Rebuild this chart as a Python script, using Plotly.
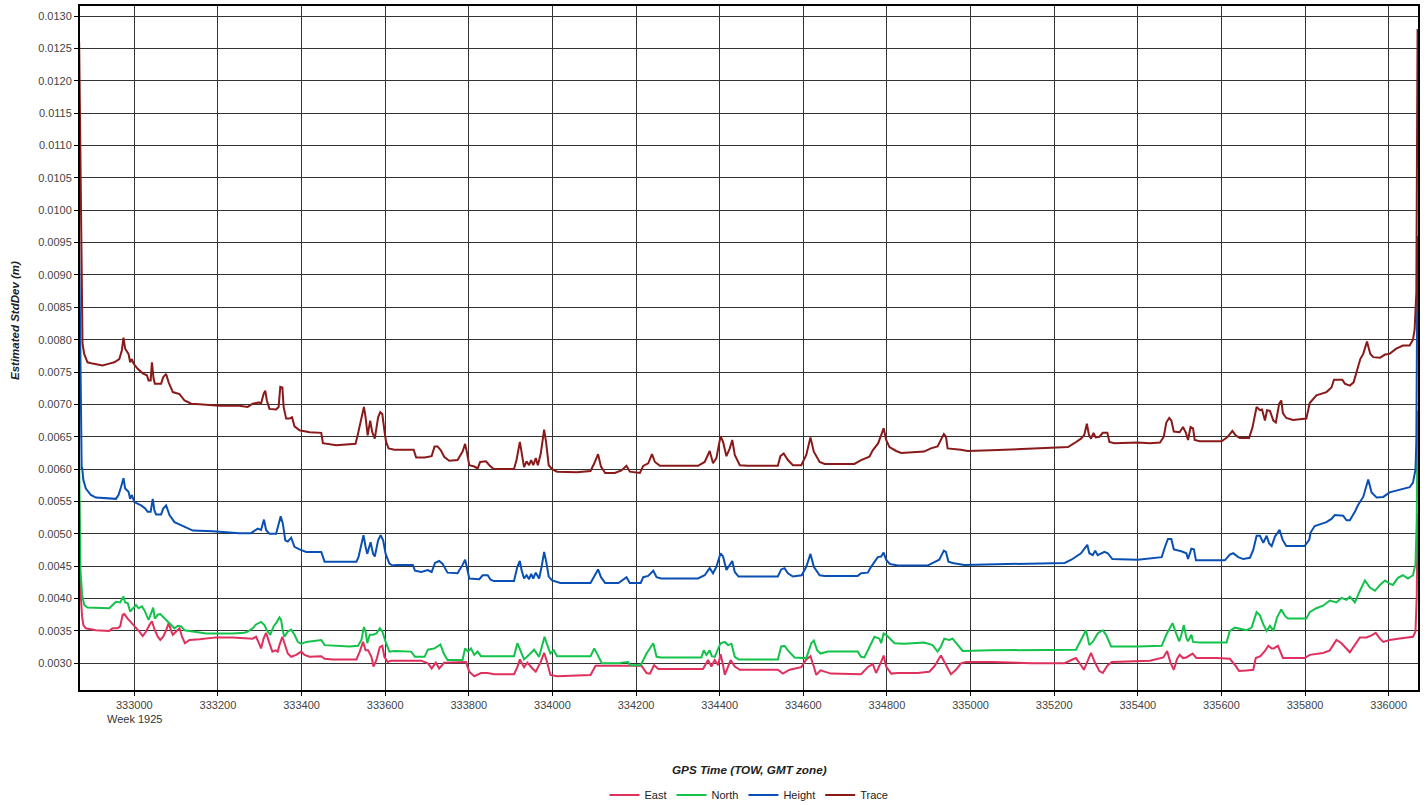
import plotly.graph_objects as go

# ---------------- data ----------------
trace_x = [332868, 332873, 332874, 332876, 332880, 332888, 332900, 332924, 332940, 332952, 332964, 332970, 332974,
           332978, 332986, 332990, 332994, 332998, 333008, 333020, 333030, 333034, 333039, 333042, 333046, 333049,
           333064, 333069, 333076, 333082, 333092, 333108, 333120, 333136, 333156, 333203, 333251, 333271, 333283,
           333298, 333303, 333309, 333313, 333317, 333323, 333339, 333345, 333349, 333354, 333357, 333363, 333371,
           333377, 333383, 333395, 333419, 333447, 333451, 333483, 333507, 333529, 333535, 333543, 333549, 333553,
           333558, 333564, 333569, 333575, 333583, 333588, 333593, 333599, 333602, 333608, 333622, 333668, 333674,
           333694, 333711, 333718, 333725, 333733, 333741, 333753, 333773, 333785, 333791, 333795, 333801, 333813,
           333821, 333827, 333841, 333849, 333859, 333908, 333914, 333922, 333926, 333932, 333938, 333944, 333949,
           333954, 333960, 333965, 333972, 333980, 333985, 333991, 333999, 334011, 334059, 334091, 334100, 334109,
           334116, 334126, 334149, 334165, 334177, 334185, 334209, 334217, 334229, 334238, 334245, 334257, 334348,
           334364, 334376, 334384, 334392, 334402, 334408, 334416, 334424, 334430, 334436, 334448, 334467, 334539,
           334545, 334553, 334563, 334575, 334595, 334607, 334617, 334625, 334639, 334651, 334722, 334738, 334758,
           334766, 334779, 334786, 334792, 334798, 334806, 334822, 334834, 334889, 334905, 334921, 334929, 334936,
           334941, 334945, 334977, 334993, 335049, 335185, 335233, 335248, 335264, 335272, 335278, 335283, 335288,
           335294, 335299, 335308, 335316, 335327, 335332, 335344, 335400, 335429, 335453, 335462, 335468, 335475,
           335480, 335486, 335500, 335508, 335515, 335520, 335526, 335532, 335536, 335548, 335600, 335614, 335626,
           335634, 335644, 335666, 335674, 335684, 335692, 335697, 335704, 335709, 335716, 335724, 335730, 335738,
           335743, 335747, 335755, 335771, 335803, 335811, 335818, 335827, 335851, 335863, 335869, 335889, 335895,
           335907, 335916, 335924, 335932, 335939, 335948, 335956, 335963, 335979, 335991, 336002, 336018, 336034,
           336050, 336058, 336062, 336066, 336069]
trace_y = [0.0126, 0.0092, 0.0081, 0.00794, 0.00778, 0.00765, 0.00763, 0.0076, 0.00763, 0.00765, 0.0077, 0.00783,
           0.00803, 0.00786, 0.00778, 0.00765, 0.0077, 0.00763, 0.00755, 0.00748, 0.00745, 0.00737, 0.00737, 0.00765,
           0.0074, 0.00732, 0.00732, 0.00742, 0.00747, 0.00734, 0.00719, 0.00716, 0.00706, 0.00701, 0.007, 0.00698,
           0.00698, 0.00696, 0.00701, 0.00703, 0.00701, 0.00716, 0.00721, 0.00706, 0.00693, 0.00692, 0.00696,
           0.00727, 0.00726, 0.00696, 0.00678, 0.00678, 0.0068, 0.00666, 0.0066, 0.00657, 0.00656, 0.0064, 0.00637,
           0.00638, 0.00639, 0.00655, 0.0068, 0.00696, 0.0068, 0.00652, 0.00675, 0.00657, 0.00647, 0.0068, 0.00688,
           0.00685, 0.00655, 0.00642, 0.00632, 0.0063, 0.0063, 0.00618, 0.00618, 0.0062, 0.00635, 0.00635, 0.00629,
           0.00619, 0.00613, 0.00614, 0.00627, 0.00639, 0.00627, 0.00606, 0.00604, 0.00601, 0.00611, 0.00612,
           0.00606, 0.006, 0.006, 0.00614, 0.00642, 0.00627, 0.00603, 0.00612, 0.00606, 0.00614, 0.00606, 0.00617,
           0.00606, 0.00624, 0.00661, 0.0064, 0.00606, 0.006, 0.00596, 0.00595, 0.00597, 0.00609, 0.00623, 0.00604,
           0.00594, 0.00594, 0.00598, 0.00605, 0.00596, 0.00594, 0.00605, 0.00609, 0.00623, 0.00611, 0.00605,
           0.00605, 0.00611, 0.00628, 0.00609, 0.00617, 0.00651, 0.00642, 0.0062, 0.00632, 0.00645, 0.00622,
           0.00606, 0.00605, 0.00605, 0.0062, 0.00624, 0.00614, 0.00606, 0.00606, 0.00622, 0.00649, 0.00627,
           0.00611, 0.00608, 0.00608, 0.00614, 0.00619, 0.00629, 0.0064, 0.00653, 0.00663, 0.00645, 0.00634,
           0.00628, 0.00625, 0.00627, 0.00632, 0.00635, 0.00645, 0.00654, 0.0065, 0.00632, 0.0063, 0.00628, 0.00629,
           0.00632, 0.00634, 0.0064, 0.00647, 0.00653, 0.0067, 0.00653, 0.00647, 0.00656, 0.00649, 0.0065, 0.00656,
           0.00656, 0.00642, 0.0064, 0.00641, 0.0064, 0.00641, 0.0065, 0.00672, 0.00679, 0.00675, 0.00658, 0.00657,
           0.00665, 0.00656, 0.00645, 0.00665, 0.00663, 0.00645, 0.00643, 0.00643, 0.00649, 0.00659, 0.00652,
           0.00648, 0.00648, 0.00664, 0.00696, 0.00691, 0.00692, 0.00675, 0.00691, 0.0069, 0.00675, 0.00672,
           0.00701, 0.00706, 0.00686, 0.00679, 0.00676, 0.00678, 0.00702, 0.00708, 0.00714, 0.00719, 0.00726,
           0.00738, 0.00738, 0.00732, 0.00729, 0.00734, 0.00752, 0.0077, 0.00778, 0.00797, 0.00778, 0.00773,
           0.00772, 0.00777, 0.00778, 0.00786, 0.00791, 0.00791, 0.008, 0.00816, 0.00873, 0.0128]

height_x = [332868, 332872, 332874, 332875, 332878, 332884, 332896, 332908, 332956, 332962, 332968, 332974, 332978,
            332986, 332990, 332994, 333000, 333016, 333026, 333032, 333039, 333044, 333048, 333052, 333064, 333069,
            333076, 333084, 333096, 333112, 333124, 333140, 333188, 333251, 333279, 333295, 333303, 333310, 333315,
            333323, 333339, 333346, 333350, 333355, 333361, 333367, 333375, 333383, 333395, 333411, 333447, 333455,
            333531, 333536, 333543, 333548, 333553, 333557, 333565, 333571, 333575, 333583, 333589, 333595, 333601,
            333610, 333618, 333626, 333666, 333671, 333686, 333702, 333711, 333719, 333729, 333737, 333749, 333773,
            333785, 333791, 333795, 333801, 333825, 333833, 333845, 333852, 333860, 333908, 333916, 333922, 333926,
            333932, 333938, 333944, 333949, 333954, 333960, 333968, 333974, 333980, 333985, 333991, 333999, 334019,
            334091, 334100, 334109, 334116, 334126, 334158, 334177, 334185, 334211, 334217, 334229, 334241, 334249,
            334260, 334348, 334364, 334376, 334384, 334392, 334402, 334408, 334416, 334424, 334430, 334436, 334445,
            334539, 334547, 334555, 334563, 334575, 334596, 334607, 334617, 334625, 334639, 334651, 334730, 334738,
            334754, 334762, 334778, 334786, 334792, 334798, 334806, 334810, 334826, 334897, 334909, 334925, 334936,
            334941, 334947, 334957, 334985, 335049, 335145, 335225, 335241, 335264, 335279, 335284, 335292, 335298,
            335304, 335320, 335328, 335339, 335400, 335429, 335457, 335465, 335472, 335480, 335486, 335504, 335516,
            335520, 335528, 335534, 335539, 335608, 335620, 335628, 335640, 335652, 335668, 335676, 335684, 335692,
            335700, 335708, 335714, 335720, 335728, 335739, 335746, 335755, 335799, 335810, 335813, 335823, 335851,
            335863, 335871, 335891, 335899, 335907, 335919, 335927, 335939, 335951, 335959, 335971, 335987, 336002,
            336018, 336034, 336050, 336058, 336064, 336066, 336069]
height_y = [0.0095, 0.0070, 0.0060, 0.00603, 0.00583, 0.0057, 0.0056, 0.00556, 0.00554, 0.0056, 0.00572, 0.00586,
            0.0057, 0.00565, 0.00554, 0.0056, 0.00549, 0.00544, 0.00539, 0.00534, 0.00534, 0.00554, 0.00536, 0.0053,
            0.0053, 0.00539, 0.00544, 0.00529, 0.00518, 0.00513, 0.0051, 0.00505, 0.00504, 0.00501, 0.00501, 0.00508,
            0.00506, 0.00522, 0.00506, 0.005, 0.005, 0.00516, 0.00527, 0.00516, 0.0049, 0.00488, 0.00494, 0.0048,
            0.00476, 0.00472, 0.00472, 0.00457, 0.00457, 0.00464, 0.00485, 0.00498, 0.0048, 0.00469, 0.00487,
            0.00469, 0.00465, 0.0049, 0.00498, 0.0049, 0.00469, 0.00454, 0.00451, 0.00452, 0.00452, 0.00443,
            0.00441, 0.00444, 0.00441, 0.00455, 0.00458, 0.00454, 0.0044, 0.00439, 0.00452, 0.0046, 0.00449,
            0.00431, 0.0043, 0.00436, 0.00436, 0.00429, 0.00427, 0.00427, 0.00449, 0.00458, 0.00444, 0.00431,
            0.00436, 0.0043, 0.00438, 0.00431, 0.0044, 0.00431, 0.00449, 0.00472, 0.00457, 0.00434, 0.00428,
            0.00424, 0.00424, 0.00434, 0.00445, 0.00433, 0.00424, 0.00424, 0.00433, 0.00424, 0.00424, 0.00433,
            0.00435, 0.00443, 0.00433, 0.00431, 0.00431, 0.00436, 0.00447, 0.00439, 0.00449, 0.0047, 0.00465,
            0.00444, 0.00452, 0.00458, 0.00441, 0.00434, 0.00434, 0.00445, 0.00447, 0.00439, 0.00434, 0.00436,
            0.00449, 0.00469, 0.00449, 0.00436, 0.00435, 0.00435, 0.00439, 0.0044, 0.00449, 0.00464, 0.00465,
            0.00471, 0.0046, 0.00454, 0.00453, 0.00451, 0.00451, 0.00455, 0.0046, 0.00474, 0.00472, 0.00457,
            0.00455, 0.00452, 0.00453, 0.00454, 0.00455, 0.0046, 0.0047, 0.00483, 0.0047, 0.00467, 0.00474, 0.00467,
            0.00472, 0.0047, 0.00461, 0.0046, 0.00462, 0.00464, 0.0048, 0.00492, 0.00492, 0.00476, 0.00473, 0.0047,
            0.00461, 0.00477, 0.00476, 0.00459, 0.00459, 0.00468, 0.0047, 0.00464, 0.00461, 0.00463, 0.00475,
            0.00497, 0.00497, 0.00486, 0.00497, 0.00485, 0.00481, 0.00496, 0.00506, 0.00491, 0.00481, 0.00481,
            0.00491, 0.00502, 0.00512, 0.00518, 0.00523, 0.00529, 0.00528, 0.00521, 0.00521, 0.00534, 0.00545,
            0.00557, 0.00584, 0.00564, 0.00556, 0.00557, 0.00564, 0.00567, 0.00569, 0.00572, 0.00579, 0.00599,
            0.00643, 0.0096]

north_x = [332868, 332871, 332875, 332880, 332888, 332916, 332940, 332948, 332956, 332966, 332974, 332978, 332984,
           332990, 332996, 333004, 333010, 333018, 333024, 333030, 333034, 333040, 333045, 333049, 333056, 333062,
           333068, 333080, 333088, 333096, 333104, 333112, 333120, 333132, 333148, 333172, 333235, 333263, 333271,
           333283, 333291, 333303, 333311, 333317, 333325, 333333, 333341, 333347, 333351, 333355, 333359, 333367,
           333375, 333383, 333391, 333399, 333411, 333431, 333447, 333455, 333475, 333515, 333535, 333543, 333549,
           333553, 333557, 333563, 333571, 333579, 333587, 333593, 333601, 333610, 333622, 333662, 333671, 333694,
           333702, 333718, 333732, 333740, 333749, 333785, 333791, 333798, 333805, 333813, 333821, 333829, 333852,
           333908, 333916, 333924, 333932, 333944, 333956, 333968, 333976, 333981, 333986, 333995, 334003, 334011,
           334091, 334100, 334108, 334118, 334162, 334165, 334181, 334185, 334211, 334225, 334241, 334249, 334260,
           334356, 334362, 334368, 334376, 334381, 334388, 334402, 334412, 334420, 334428, 334436, 334445, 334539,
           334547, 334555, 334563, 334579, 334607, 334619, 334625, 334633, 334641, 334659, 334730, 334738, 334746,
           334758, 334770, 334782, 334786, 334792, 334798, 334818, 334841, 334889, 334909, 334921, 334929, 334937,
           334949, 334957, 334969, 334981, 335049, 335233, 335252, 335264, 335276, 335284, 335292, 335304, 335316,
           335324, 335336, 335400, 335429, 335457, 335468, 335483, 335491, 335499, 335504, 335510, 335516, 335520,
           335528, 335532, 335548, 335612, 335620, 335632, 335660, 335672, 335684, 335692, 335700, 335708, 335716,
           335724, 335733, 335743, 335751, 335759, 335803, 335811, 335827, 335843, 335859, 335875, 335887, 335899,
           335907, 335919, 335929, 335943, 335955, 335967, 335979, 335991, 336002, 336010, 336022, 336034, 336046,
           336058, 336064, 336067, 336069]
north_y = [0.0061, 0.00444, 0.00406, 0.0039, 0.00386, 0.00385, 0.00385, 0.0039, 0.00395, 0.00394, 0.00403, 0.00394,
           0.00393, 0.0038, 0.00385, 0.0039, 0.00385, 0.00388, 0.00382, 0.00372, 0.00367, 0.00377, 0.00386, 0.00369,
           0.00375, 0.00376, 0.00372, 0.00364, 0.00359, 0.00354, 0.00358, 0.00357, 0.00351, 0.0035, 0.00349,
           0.00346, 0.00346, 0.00347, 0.00349, 0.00354, 0.0036, 0.00364, 0.00359, 0.00351, 0.00344, 0.00357,
           0.00364, 0.00371, 0.00367, 0.0035, 0.00341, 0.00349, 0.00352, 0.00344, 0.00333, 0.0033, 0.00333,
           0.00335, 0.00336, 0.00328, 0.00327, 0.00326, 0.00327, 0.00336, 0.00356, 0.00349, 0.00331, 0.00344,
           0.00344, 0.00346, 0.00354, 0.00349, 0.00333, 0.00318, 0.00319, 0.00318, 0.0031, 0.0031, 0.00321,
           0.00323, 0.00329, 0.00315, 0.00305, 0.00305, 0.00323, 0.00318, 0.00323, 0.00313, 0.00318, 0.00311,
           0.00311, 0.00311, 0.00331, 0.00318, 0.00306, 0.00313, 0.00321, 0.0031, 0.00331, 0.00341, 0.00331,
           0.00315, 0.0032, 0.00311, 0.00311, 0.00323, 0.00313, 0.003, 0.003, 0.00301, 0.00302, 0.00297, 0.00297,
           0.00315, 0.00331, 0.0031, 0.00309, 0.00309, 0.0032, 0.00313, 0.0032, 0.00311, 0.0031, 0.00331, 0.00333,
           0.00328, 0.0033, 0.0031, 0.00306, 0.00306, 0.00326, 0.00327, 0.0032, 0.00309, 0.00308, 0.00331, 0.00335,
           0.0032, 0.00315, 0.00318, 0.00318, 0.0031, 0.00309, 0.00326, 0.00341, 0.00338, 0.00331, 0.00346,
           0.00344, 0.00331, 0.0033, 0.00332, 0.00328, 0.00318, 0.00326, 0.00338, 0.00336, 0.00338, 0.00328,
           0.00319, 0.0032, 0.00321, 0.00321, 0.00336, 0.00351, 0.00328, 0.00333, 0.00346, 0.00351, 0.00344,
           0.00326, 0.00326, 0.00326, 0.00327, 0.00344, 0.00362, 0.00347, 0.00334, 0.00344, 0.00359, 0.00339,
           0.00334, 0.00344, 0.00333, 0.00332, 0.00332, 0.0035, 0.00355, 0.00351, 0.00355, 0.00379, 0.00374,
           0.0036, 0.0035, 0.00358, 0.0035, 0.00371, 0.00383, 0.00374, 0.00369, 0.00369, 0.00379, 0.00385,
           0.00389, 0.00397, 0.00394, 0.00401, 0.00398, 0.00403, 0.00394, 0.00409, 0.00428, 0.00417, 0.00412,
           0.00421, 0.00428, 0.00423, 0.00421, 0.00432, 0.00436, 0.00431, 0.00436, 0.00453, 0.00523, 0.0069]

east_x = [332868, 332870, 332875, 332878, 332884, 332908, 332940, 332948, 332960, 332966, 332972, 332976, 332984,
          332994, 333004, 333012, 333020, 333028, 333036, 333042, 333049, 333056, 333062, 333069, 333076, 333082,
          333088, 333092, 333100, 333108, 333114, 333121, 333132, 333156, 333196, 333235, 333283, 333291, 333298,
          333303, 333309, 333315, 333322, 333330, 333338, 333343, 333347, 333354, 333359, 333367, 333375, 333387,
          333399, 333407, 333419, 333447, 333455, 333475, 333531, 333539, 333547, 333553, 333559, 333567, 333572,
          333579, 333587, 333593, 333598, 333606, 333614, 333686, 333702, 333711, 333721, 333729, 333741, 333793,
          333801, 333813, 333829, 333845, 333860, 333908, 333916, 333922, 333932, 333940, 333952, 333960, 333972,
          333980, 333987, 333995, 334011, 334091, 334103, 334138, 334181, 334213, 334225, 334233, 334243, 334253,
          334360, 334372, 334380, 334388, 334396, 334402, 334408, 334412, 334420, 334426, 334436, 334448, 334539,
          334551, 334567, 334595, 334607, 334617, 334625, 334631, 334641, 334666, 334738, 334754, 334766, 334774,
          334786, 334792, 334798, 334810, 334826, 334873, 334901, 334913, 334929, 334941, 334953, 334965, 334977,
          334989, 335049, 335145, 335225, 335241, 335252, 335264, 335271, 335279, 335288, 335296, 335308, 335316,
          335328, 335338, 335400, 335429, 335461, 335470, 335478, 335486, 335494, 335500, 335508, 335516, 335531,
          335540, 335588, 335620, 335634, 335642, 335660, 335676, 335682, 335693, 335704, 335712, 335720, 335725,
          335735, 335743, 335747, 335799, 335811, 335843, 335859, 335875, 335887, 335907, 335919, 335931, 335947,
          335959, 335969, 335979, 335987, 336002, 336022, 336058, 336064, 336067, 336069]
east_y = [0.0055, 0.00424, 0.00372, 0.00359, 0.00354, 0.00351, 0.0035, 0.00354, 0.00354, 0.00357, 0.00375, 0.00376,
          0.00369, 0.00362, 0.00354, 0.00349, 0.00342, 0.00349, 0.00359, 0.00365, 0.00351, 0.00341, 0.00336,
          0.00341, 0.00351, 0.00362, 0.0035, 0.00344, 0.00349, 0.00354, 0.00341, 0.00331, 0.00336, 0.00337, 0.0034,
          0.0034, 0.00338, 0.00341, 0.00331, 0.00323, 0.00338, 0.00347, 0.00333, 0.00318, 0.0032, 0.00318,
          0.00328, 0.00341, 0.00331, 0.00315, 0.0031, 0.00313, 0.00318, 0.00313, 0.0031, 0.00311, 0.00307,
          0.00306, 0.00306, 0.00318, 0.00333, 0.0032, 0.0032, 0.0031, 0.00295, 0.00305, 0.00325, 0.00327, 0.0031,
          0.00302, 0.00304, 0.00304, 0.003, 0.00292, 0.00301, 0.00292, 0.00301, 0.00302, 0.00287, 0.0028, 0.00285,
          0.00285, 0.00283, 0.00283, 0.00294, 0.00306, 0.00294, 0.00301, 0.00292, 0.00287, 0.00302, 0.00316,
          0.00302, 0.00282, 0.0028, 0.00282, 0.00296, 0.00296, 0.00296, 0.00296, 0.00285, 0.00284, 0.00297,
          0.00291, 0.00291, 0.00305, 0.00295, 0.00305, 0.00297, 0.00314, 0.00297, 0.00282, 0.00295, 0.00305,
          0.00295, 0.0029, 0.0029, 0.00284, 0.0029, 0.00294, 0.00306, 0.00311, 0.00295, 0.00282, 0.00289,
          0.00284, 0.00283, 0.00294, 0.00299, 0.00285, 0.00302, 0.00312, 0.00295, 0.00284, 0.00285, 0.00285,
          0.00287, 0.00295, 0.00312, 0.00297, 0.00283, 0.0029, 0.003, 0.00302, 0.00302, 0.003, 0.003, 0.00305,
          0.00308, 0.00297, 0.0029, 0.00302, 0.00316, 0.00303, 0.00288, 0.00285, 0.00297, 0.00302, 0.00304,
          0.00304, 0.00309, 0.00319, 0.00301, 0.0029, 0.00307, 0.00313, 0.00308, 0.00309, 0.00315, 0.00308,
          0.00308, 0.00307, 0.00296, 0.00288, 0.00289, 0.0029, 0.00308, 0.00311, 0.00319, 0.00327, 0.00323,
          0.00323, 0.00327, 0.00315, 0.00308, 0.00308, 0.00313, 0.00316, 0.0032, 0.00336, 0.00331, 0.00317,
          0.00328, 0.0034, 0.0034, 0.00343, 0.00347, 0.00338, 0.00333, 0.00336, 0.00338, 0.00341, 0.00349,
          0.00404, 0.00531]

series = [
    ("East", east_x, east_y, "#E0305E"),
    ("North", north_x, north_y, "#12C24A"),
    ("Height", height_x, height_y, "#0A4FB4"),
    ("Trace", trace_x, trace_y, "#8A1A1A"),
]

x_ticks = list(range(333000, 336001, 200))
y_ticks = [round(0.0030 + 0.0005 * i, 4) for i in range(21)]

# ---------------- figure ----------------
fig = go.Figure()
for name, xs, ys, color in series:
    fig.add_trace(go.Scatter(x=xs, y=ys, mode="lines", name=name,
                             line=dict(color=color, width=2)))

font_family = "Liberation Sans, Arial, sans-serif"

fig.update_layout(
    width=1426, height=805,
    margin=dict(l=80, r=8, t=6, b=115, autoexpand=False),
    paper_bgcolor="white", plot_bgcolor="white",
    font=dict(family=font_family, size=11, color="#333333"),
    showlegend=True,
    legend=dict(orientation="h", x=0.5, xanchor="center", yref="paper", y=-0.1535, yanchor="middle",
                font=dict(size=11, color="#222222"), itemwidth=30, tracegroupgap=0,
                bgcolor="rgba(0,0,0,0)"),
)

fig.update_xaxes(
    range=[332870, 336070], tickmode="array", tickvals=x_ticks, ticktext=[str(v) for v in x_ticks],
    showgrid=True, gridcolor="#333333", gridwidth=1, zeroline=False, automargin=False,
    showline=True, linecolor="black", linewidth=2, mirror=True,
    ticks="outside", ticklen=4, tickcolor="black", tickfont=dict(size=11, color="#444444"),
)
fig.update_yaxes(
    range=[0.002587, 0.013155], tickmode="array", tickvals=y_ticks, ticktext=[f"{v:.4f}" for v in y_ticks],
    showgrid=True, gridcolor="#333333", gridwidth=1, zeroline=False, automargin=False,
    showline=True, linecolor="black", linewidth=2, mirror=True,
    ticks="outside", ticklen=4, tickcolor="black", tickfont=dict(size=11, color="#444444"),
)

fig.add_annotation(x=333000, xref="x", y=0, yref="paper", yshift=-29, text="Week 1925",
                   showarrow=False, font=dict(size=11, color="#333333"), yanchor="middle")
fig.add_annotation(x=0.5, xref="paper", y=0, yref="paper", yshift=-79,
                   text="<b><i>GPS Time (TOW, GMT zone)</i></b>",
                   showarrow=False, font=dict(size=11.7, color="#222222"), yanchor="middle")
fig.add_annotation(x=0, xref="paper", xshift=-65, y=0.5395, yref="paper", textangle=-90,
                   text="<b><i>Estimated StdDev (m)</i></b>",
                   showarrow=False, font=dict(size=11.5, color="#222222"), xanchor="center")

fig.write_html("out.html", config={"displayModeBar": False},
               post_script="document.body.style.margin='0px';document.body.style.overflow='hidden';")
